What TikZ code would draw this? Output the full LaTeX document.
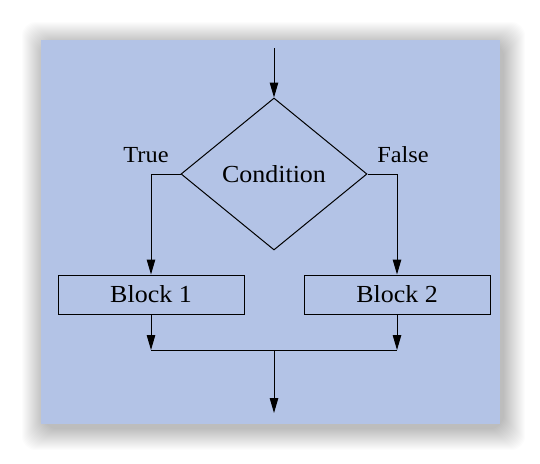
\documentclass[tikz,border=0pt]{standalone}
\usepackage{fontspec}
\setmainfont{Liberation Serif}[FakeStretch=1.06]
\usetikzlibrary{shapes.geometric,arrows.meta}
\definecolor{panelblue}{RGB}{179,195,230}
\tikzset{
  arr/.style={-{Triangle[length=15pt,width=8.5pt]}},
  conn/.style={draw=black,line width=1pt},
  blockbox/.style={draw=black,line width=1pt,rectangle,minimum width=186pt,minimum height=39pt,inner sep=0pt,font=\fontsize{24.5}{28}\selectfont},
  condbox/.style={draw=black,line width=1pt,diamond,aspect=1.22,minimum width=186pt,minimum height=152pt,inner sep=0pt,font=\fontsize{24.5}{28}\selectfont},
  lbl/.style={font=\fontsize{23}{26}\selectfont,inner sep=0pt}
}
\begin{document}
\begin{tikzpicture}[x=1pt,y=-1pt]
\useasboundingbox (0,0) rectangle (540,463);
\fill[white] (0,0) rectangle (540,463);
% soft shadow
\foreach \i in {0,...,21}{
  \fill[black,opacity=0.01,rounded corners=14pt] ({41+3-22+\i*1},{40+4-22+\i*1}) rectangle ({500+3+22-\i*1},{424+4+22-\i*1});
}
\fill[panelblue] (41,40) rectangle (500,424);
% nodes
\coordinate (top) at (274,48);
\node[condbox] (cond) at (274,174) {Condition};
\node[blockbox] (b1) at (151,294.5) {Block 1};
\node[blockbox] (b2) at (397,294.5) {Block 2};
\node[lbl] (ltrue) at (146,155) {True};
\node[lbl] (lfalse) at (403,155) {False};
\coordinate (j1) at (151,350);
\coordinate (j2) at (397,350);
\coordinate (jm) at (274,350);
\coordinate (bot) at (274,413);
% connectors
\draw[conn,arr] (top) -- (cond.north);
\draw[conn,arr] (cond.west) -| (b1.north);
\draw[conn,arr] (cond.east) -| (b2.north);
\draw[conn,arr] (b1.south) -- (j1);
\draw[conn,arr] (b2.south) -- (j2);
\draw[conn] (j1) -- (j2);
\draw[conn,arr] (jm) -- (bot);
\end{tikzpicture}
\end{document}
